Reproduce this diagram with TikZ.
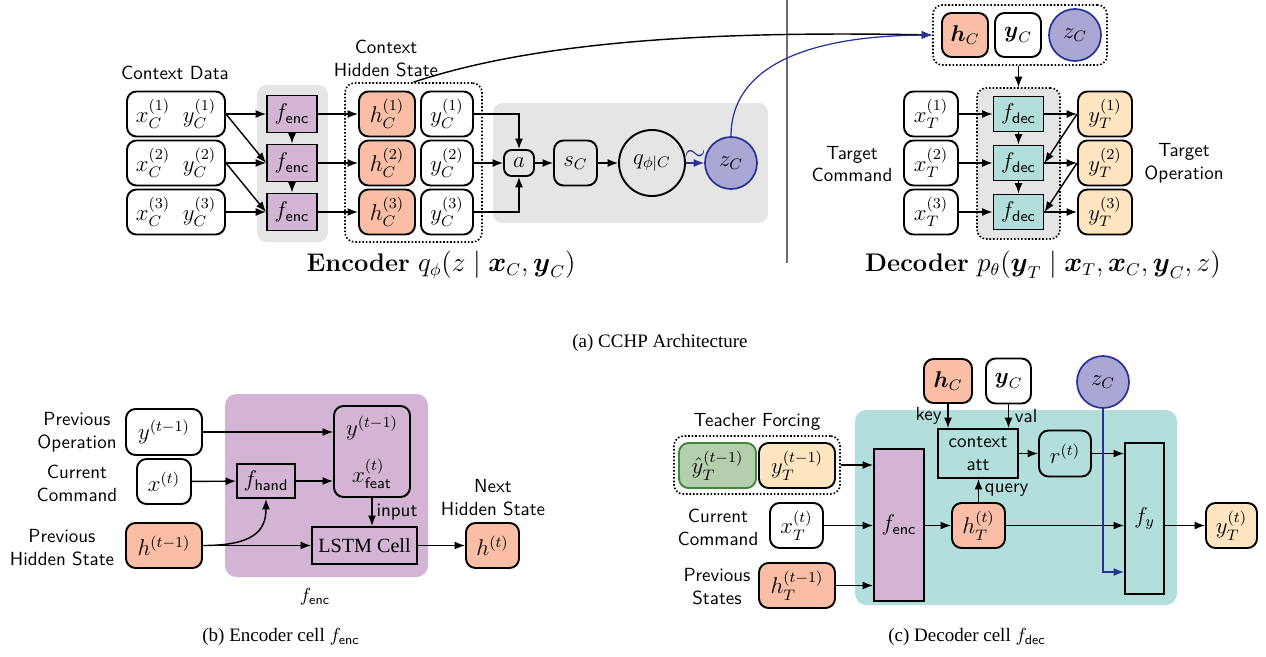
\documentclass[tikz,border=0pt]{standalone}
\usepackage{amsmath}
\usepackage{fontspec}
\newfontfamily\capfont{Liberation Serif}
\usetikzlibrary{arrows.meta,calc,fit}

\newcommand\pxu{0.526pt}
\newcommand\boxfont{\fontsize{11.5pt}{13.8pt}\selectfont}

\definecolor{hsalmon}{RGB}{249,190,165}
\definecolor{fpurple}{RGB}{211,180,213}
\definecolor{fteal}{RGB}{178,223,219}
\definecolor{yyellow}{RGB}{255,230,193}
\definecolor{zfill}{RGB}{171,167,212}
\definecolor{zline}{RGB}{40,50,150}
\definecolor{gfill}{RGB}{181,207,174}
\definecolor{gline}{RGB}{65,135,60}
\definecolor{panelgray}{RGB}{229,229,229}
\definecolor{sepgray}{RGB}{110,110,110}

\tikzset{
  sz/.style 2 args={minimum width=#1*\pxu, minimum height=#2*\pxu},
  rbox/.style={draw, line width=1pt, rounded corners=5pt, inner sep=0pt, font=\sffamily\boxfont},
  wbox/.style={rbox, fill=white},
  hbox/.style={rbox, fill=hsalmon},
  ybox/.style={rbox, fill=yyellow},
  gbox/.style={rbox, fill=gfill, draw=gline},
  sq/.style={draw, line width=1pt, inner sep=0pt, font=\sffamily\boxfont},
  fencbox/.style={sq, fill=fpurple, sz={50}{37}},
  fdecbox/.style={sq, fill=fteal, sz={50}{35}},
  zc/.style={circle, draw=zline, line width=0.9pt, fill=zfill, inner sep=0pt, minimum size=52*\pxu, font=\boxfont},
  dotbox/.style={draw, densely dotted, line width=0.85pt, rounded corners=5pt, inner sep=0pt},
  greypanel/.style={fill=panelgray, rounded corners=5pt, inner sep=0pt},
  lab/.style={align=center, inner sep=0pt},
  arr/.style={line width=0.75pt, ->},
  barr/.style={line width=0.65pt, ->, draw=zline},
  biglab/.style={font=\fontsize{13.4pt}{16pt}\selectfont\rmfamily},
}

\begin{document}
\begin{tikzpicture}[x=\pxu, y=-\pxu, font=\sffamily,
  >={Latex[length=5.5pt,width=4.2pt]}]
\useasboundingbox (0,0) rectangle (1266,656);

% ---------------- Encoder ----------------
\node[greypanel, fit={(257,85) (328,242)}] (encpanel) {};
\node[greypanel, fit={(493,103) (768,223)}] (qpanel) {};
\node[dotbox, fit={(345,83) (482,242)}] (hid) {};

\node[lab] (cdata) at (175,73) {Context Data};
\node[lab] (chid) at (386,58.5) {Context\\Hidden State};

\foreach \i/\y in {1/114,2/163,3/212}{
  \node[wbox, sz={98}{45}] (cx\i) at (176,\y) {$x_C^{(\i)}\;\;y_C^{(\i)}$};
  \node[fencbox] (fe\i) at (292,\y) {$f_{\textsf{enc}}$};
  \node[hbox, sz={56}{45}] (hc\i) at (387,\y) {$h_C^{(\i)}$};
  \node[wbox, sz={52}{45}] (yc\i) at (447,\y) {$y_C^{(\i)}$};
  \draw[arr] (cx\i.east) -- (fe\i.west);
  \draw[arr] (fe\i.east) -- (hc\i.west);
}
\draw[arr] (cx1.east) -- (fe2.west);
\draw[arr] (cx2.east) -- (fe3.west);
\draw[arr] (fe1.south) -- (fe2.north);
\draw[arr] (fe2.south) -- (fe3.north);

\node[rbox, sz={30}{26}, rounded corners=4pt] (a) at (519,163) {$a$};
\node[rbox, sz={43}{45}] (sc) at (575.5,163) {$s_C$};
\node[circle, draw, line width=1pt, inner sep=0pt, minimum size=66*\pxu, font=\boxfont] (q) at (652,163) {$q_{\phi|C}$};
\node[zc] (z1) at (731,163) {$z_C$};

\draw[arr] (yc1.east) -| (a.north);
\draw[arr] (yc3.east) -| (a.south);
\draw[arr] (yc2.east) -- (a.west);
\draw[arr] (a) -- (sc);
\draw[arr] (sc) -- (q);
\draw[barr] (q) -- node[above=1pt, text=zline, inner sep=0pt, font=\Large] {$\sim$} (z1);

\node[biglab] (enclab) at (441,265)
  {\textbf{Encoder} $q_\phi(z \mid \boldsymbol{x}_C, \boldsymbol{y}_C)$};

% separator between encoder and decoder
\draw[sepgray, line width=0.8pt] (787,0) -- (787,263);

% ---------------- Decoder ----------------
\node[dotbox, fit={(933,5) (1107,65)}] (grp) {};
\node[hbox, sz={46}{44}] (hC) at (965,35) {$\boldsymbol{h}_C$};
\node[wbox, sz={46}{44}] (yC) at (1018,35) {$\boldsymbol{y}_C$};
\node[zc] (z2) at (1075,35) {$z_C$};

\node[greypanel, draw, densely dotted, line width=0.85pt, fit={(977,88) (1060,239)}] (decp) {};

\foreach \i/\y in {1/114,2/163,3/212}{
  \node[wbox, sz={54}{45}] (xt\i) at (931,\y) {$x_T^{(\i)}$};
  \node[fdecbox] (fd\i) at (1018.5,\y) {$f_{\textsf{dec}}$};
  \node[ybox, sz={54}{45}] (yt\i) at (1105,\y) {$y_T^{(\i)}$};
  \draw[arr] (xt\i.east) -- (fd\i.west);
  \draw[arr] (fd\i.east) -- (yt\i.west);
}
\draw[arr] (fd1.south) -- (fd2.north);
\draw[arr] (fd2.south) -- (fd3.north);
\draw[arr] (yt1.west) -- (fd2.east);
\draw[arr] (yt2.west) -- (fd3.east);
\draw[arr] (grp.south -| fd1.north) -- (decp.north -| fd1.north);

\node[lab] (tcmd) at (852,164) {Target\\Command};
\node[lab] (top) at (1184,163) {Target\\Operation};

\node[biglab] (declab) at (1043,265)
  {\textbf{Decoder} $p_\theta(\boldsymbol{y}_T \mid \boldsymbol{x}_T, \boldsymbol{x}_C, \boldsymbol{y}_C, z)$};

% context hidden state and latent passed to the decoder
\draw[arr] (hid.north) .. controls (540,40) and (720,31) .. (grp.west);
\draw[barr] (z1.north) .. controls (731,70) and (800,36) .. (grp.west);

\node[font=\capfont] (capa) at (660,343) {(a) CCHP Architecture};

% ---------------- Encoder cell ----------------
\node[fill=fpurple, rounded corners=6pt, inner sep=0pt, fit={(225,394) (428,577)}] (encpan) {};

\node[lab] (lprevop) at (77,432.5) {Previous\\Operation};
\node[lab] (lcurcmd) at (77,483) {Current\\Command};
\node[lab] (lprevhid) at (62,547.5) {Previous\\Hidden State};
\node[lab] (lnexthid) at (493,497.5) {Next\\Hidden State};

\node[wbox, sz={76}{46}] (yprev) at (164,432) {$y^{(t-1)}$};
\node[wbox, sz={54}{45}] (xcur) at (164,481.5) {$x^{(t)}$};
\node[hbox, sz={76}{45}] (hprev) at (164,545.5) {$h^{(t-1)}$};
\node[sq, sz={58}{34}] (fhand) at (266,481) {$f_{\textsf{hand}}$};
\node[rbox, sz={76}{91}] (feat) at (372,451.5) {};
\node[inner sep=0pt, font=\boxfont] (featy) at (372,428) {$y^{(t-1)}$};
\node[inner sep=0pt, font=\boxfont] (featx) at (372,474) {$x^{(t)}_{\textsf{feat}}$};
\node[sq, sz={105}{37}, font=\capfont\fontsize{10.6pt}{12.7pt}\selectfont] (lstm) at (364.5,545.5) {LSTM Cell};
\node[hbox, sz={53}{45}] (hnext) at (492.5,545.5) {$h^{(t)}$};

\draw[arr] (yprev.east) -- (feat.west |- yprev.east);
\draw[arr] (xcur) -- (fhand);
\draw[arr] (fhand.east) -- (feat.west |- fhand.east);
\draw[arr] (feat.south) -- (feat.south |- lstm.north)
  node[midway, right=2pt, inner sep=0pt] {input};
\draw[arr] (hprev.east) -- (lstm.west);
\draw[arr] (hprev.east) .. controls (252,545.5) and (266,532) .. (fhand.south);
\draw[arr] (lstm) -- (hnext);

\node[inner sep=0pt] (fenclab) at (315,597) {$f_{\textsf{enc}}$};
\node[font=\capfont] (capb) at (281,637) {(b) Encoder cell $f_{\textsf{enc}}$};

% ---------------- Decoder cell ----------------
\node[fill=fteal, rounded corners=6pt, inner sep=0pt, fit={(855,410) (1177,605)}] (decpan) {};

\node[lab] (ltf) at (757,422) {Teacher Forcing};
\node[dotbox, fit={(674,436) (840,494)}] (tf) {};
\node[gbox, sz={77}{45}] (yhat) at (717.5,465.5) {$\hat{y}_T^{(t-1)}$};
\node[ybox, sz={76}{45}] (ytf) at (797,465.5) {$y_T^{(t-1)}$};

\node[lab] (lcur2) at (718,527) {Current\\Command};
\node[wbox, sz={53}{45}] (xtc) at (796.5,525.5) {$x_T^{(t)}$};
\node[lab] (lprevst) at (717,587) {Previous\\States};
\node[hbox, sz={76}{45}] (htp) at (797,585.5) {$h_T^{(t-1)}$};

\node[sq, fill=fpurple, sz={50}{152}] (fenc2) at (899,525) {$f_{\textsf{enc}}$};
\node[hbox, sz={53}{45}] (htc) at (978.5,525.5) {$h_T^{(t)}$};
\node[hbox, sz={48}{44}] (hC2) at (948,381) {$\boldsymbol{h}_C$};
\node[wbox, sz={45}{45}] (yC2) at (1008.5,381) {$\boldsymbol{y}_C$};
\node[sq, sz={80}{49}, align=center, font=\sffamily] (att) at (978,453.5) {context\\att};
\node[rbox, sz={52}{46}] (r) at (1065,453.5) {$r^{(t)}$};
\node[zc] (z3) at (1103,382) {$z_C$};
\node[sq, sz={39}{151}] (fy) at (1144.5,518.5) {$f_y$};
\node[ybox, sz={51}{45}] (ytc) at (1231.5,525.5) {$y_T^{(t)}$};
\coordinate (zin) at ($(fy.south west)!0.15!(fy.north west)$);

\draw[arr] (tf.east) -- (fenc2.west |- tf.east);
\draw[arr] (xtc.east) -- (fenc2.west |- xtc.east);
\draw[arr] (htp.east) -- (fenc2.west |- htp.east);
\draw[arr] (fenc2.east |- htc.west) -- (htc.west);
\draw[arr] (hC2.south) -- (hC2.south |- att.north)
  node[midway, left=3pt, inner sep=0pt] {key};
\draw[arr] (yC2.south) -- (yC2.south |- att.north)
  node[midway, right=3pt, inner sep=0pt] {val};
\draw[arr] (htc.north) -- (htc.north |- att.south)
  node[midway, right=3pt, inner sep=0pt] {query};
\draw[arr] (att) -- (r);
\draw[arr] (r.east) -- (fy.west |- r.east);
\draw[arr] (htc.east) -- (fy.west |- htc.east);
\draw[barr] (z3.south) |- (zin);
\draw[arr] (fy.east |- ytc.west) -- (ytc.west);

\node[font=\capfont] (capc) at (967,637) {(c) Decoder cell $f_{\textsf{dec}}$};
\end{tikzpicture}
\end{document}
